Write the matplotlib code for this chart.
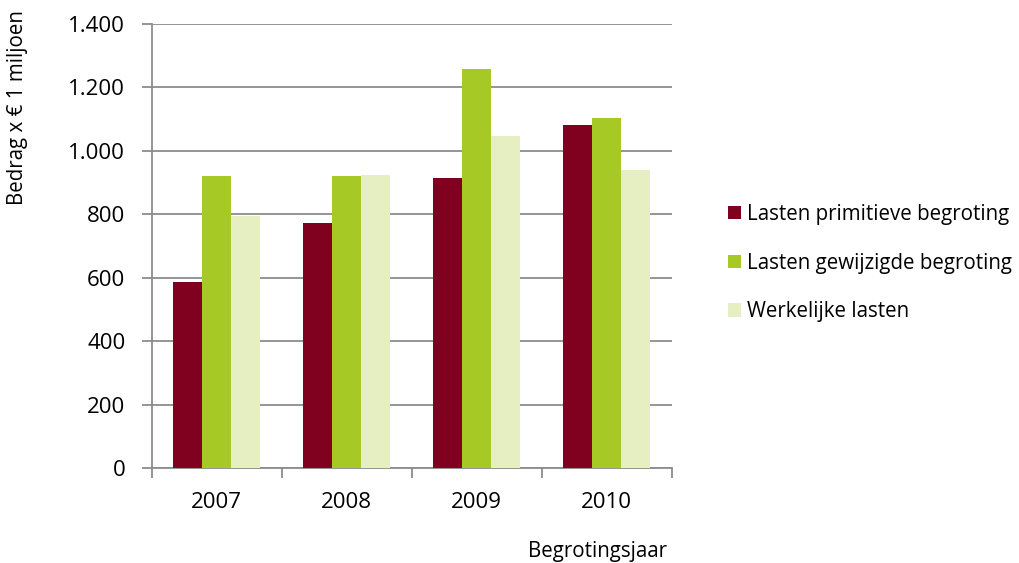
import matplotlib.pyplot as plt
import numpy as np
from matplotlib.ticker import FuncFormatter

plt.rcParams['font.family'] = ['Open Sans', 'DejaVu Sans']

years = ['2007', '2008', '2009', '2010']
series_names = ['Lasten primitieve begroting', 'Lasten gewijzigde begroting', 'Werkelijke lasten']
primitieve = [588, 773, 916, 1081]
gewijzigd = [922, 922, 1259, 1104]
werkelijk = [796, 925, 1047, 939]
colors = ['#80001F', '#A7C926', '#E5EFC2']

W, H = 1020, 563
fig = plt.figure(figsize=(W / 100, H / 100), dpi=100)
ax = fig.add_axes([151.7 / W, 1 - 468.3 / H, 520 / W, (468.3 - 24) / H])

x = np.arange(len(years))
bw = 1 / 4.5
for i, (vals, name, c) in enumerate(zip([primitieve, gewijzigd, werkelijk], series_names, colors)):
    ax.bar(x + (i - 1) * bw, vals, width=bw, color=c, label=name, zorder=3, linewidth=0)

grey = '#8C8C8C'
ax.set_xlim(-0.5, len(years) - 0.5)
ax.set_ylim(0, 1400)
ax.set_yticks(np.arange(0, 1401, 200))
ax.yaxis.set_major_formatter(FuncFormatter(lambda v, p: f'{int(v):,}'.replace(',', '.')))
ax.grid(axis='y', color=grey, linewidth=1.3, zorder=0)
ax.set_axisbelow(True)

ax.set_xticks(x)
ax.set_xticklabels(years)
ax.set_xticks(np.arange(-0.5, len(years), 1), minor=True)
ax.tick_params(axis='x', which='major', length=0, pad=17, labelsize=16)
ax.tick_params(axis='x', which='minor', length=7, width=1.3, color=grey, direction='out')
ax.tick_params(axis='y', length=7, width=1.3, color=grey, pad=12, labelsize=16)

for s in ['top', 'right']:
    ax.spines[s].set_visible(False)
for s in ['left', 'bottom']:
    ax.spines[s].set_color(grey)
    ax.spines[s].set_linewidth(1.3)

fig.text(18 / W, 1 - 10 / H, 'Bedrag x € 1 miljoen', rotation=90, ha='center', va='top', fontsize=14.8)
fig.text(667 / W, 1 - 551 / H, 'Begrotingsjaar', ha='right', va='center', fontsize=14.8)

handles, labels = ax.get_legend_handles_labels()
fig.legend(handles, labels, loc='center left', bbox_to_anchor=(718 / W, 1 - 263 / H),
           frameon=False, fontsize=14.8, handlelength=0.63, handleheight=0.63,
           handletextpad=0.3, labelspacing=1.35, borderpad=0)

fig.savefig('out.png', dpi=100)
